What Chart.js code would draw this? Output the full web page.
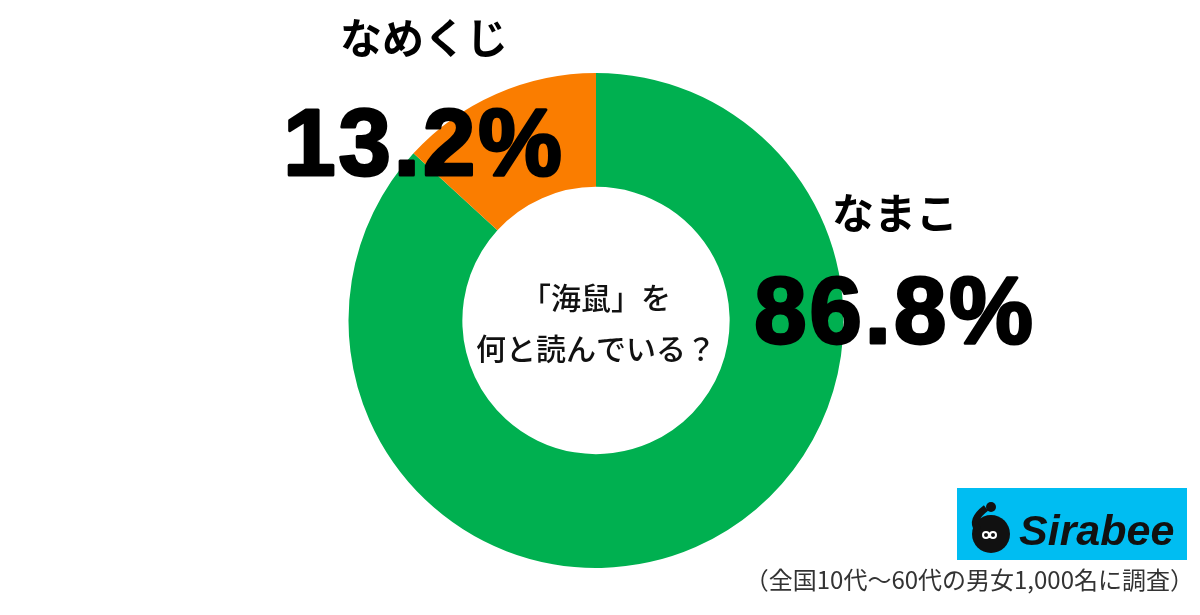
<!DOCTYPE html>
<html>
<head>
<meta charset="utf-8">
<script src="https://cdn.jsdelivr.net/npm/chart.js@4"></script>
<style>
  html, body { margin: 0; padding: 0; background: #fff; }
  #wrap { width: 1200px; height: 615px; position: relative; }
</style>
</head>
<body>
<div id="wrap"><canvas id="myChart" width="1200" height="615"></canvas></div>
<script>
var answers = ['なまこ', 'なめくじ'];
var shares = [86.8, 13.2];
var colors = ['#00B050', '#FA7D00'];
var question = ['「海鼠」を', '何と読んでいる？'];
var note = '（全国10代～60代の男女1,000名に調査）';

// where each answer's label goes (name line, then percentage line)
var labelPos = [
    { x: 895, nameY: 213, pctY: 343 },
    { x: 424, nameY: 38, pctY: 175 }
];

const textPlugin = {
    id: 'texts',
    afterDraw(chart) {
        const ctx = chart.ctx;
        const arc = chart.getDatasetMeta(0).data[0];
        ctx.save();
        ctx.fillStyle = '#000';
        ctx.strokeStyle = '#000';
        ctx.textAlign = 'center';

        // labels + percentages
        answers.forEach(function (name, i) {
            const p = labelPos[i];
            ctx.font = 'bold 42px "Noto Sans CJK JP"';
            ctx.textBaseline = 'middle';
            ctx.fillText(name, p.x, p.nameY);
            ctx.font = 'bold 94px "Liberation Sans"';
            ctx.textBaseline = 'alphabetic';
            ctx.letterSpacing = '3px';
            ctx.lineWidth = 3;
            ctx.lineJoin = 'round';
            ctx.fillText(shares[i].toFixed(1) + '%', p.x, p.pctY);
            ctx.strokeText(shares[i].toFixed(1) + '%', p.x, p.pctY);
            ctx.letterSpacing = '0px';
        });

        // question in the hole
        ctx.font = '500 30px "Noto Sans CJK JP"';
        ctx.textBaseline = 'middle';
        ctx.fillStyle = '#111';
        ctx.fillText(question[0], arc.x, arc.y - 23);
        ctx.fillText(question[1], arc.x, arc.y + 28);

        // footnote
        ctx.font = '24px "Noto Sans CJK JP"';
        ctx.fillStyle = '#333';
        ctx.textAlign = 'right';
        ctx.fillText(note, 1194, 580);

        // Sirabee logo
        ctx.fillStyle = '#00BDF2';
        ctx.fillRect(957, 488, 230, 72);
        ctx.fillStyle = '#111';
        ctx.beginPath();
        ctx.arc(991, 534, 19, 0, Math.PI * 2);
        ctx.fill();
        ctx.lineWidth = 7;
        ctx.strokeStyle = '#111';
        ctx.beginPath();
        ctx.arc(991, 507, 5, 0, Math.PI * 2);
        ctx.fill();
        ctx.beginPath();
        ctx.moveTo(986, 508);
        ctx.quadraticCurveTo(970, 520, 978, 530);
        ctx.stroke();
        ctx.strokeStyle = '#fff';
        ctx.lineWidth = 2;
        ctx.beginPath();
        ctx.arc(986, 535, 3, 0, Math.PI * 2);
        ctx.arc(993, 535, 3, Math.PI, Math.PI * 3);
        ctx.stroke();
        ctx.fillStyle = '#111';
        ctx.textAlign = 'left';
        ctx.textBaseline = 'alphabetic';
        ctx.font = 'italic bold 43px "Liberation Sans"';
        ctx.fillText('Sirabee', 1019, 545);
        ctx.restore();
    }
};

const data = {
    labels: answers,
    datasets: [{
        data: shares,
        backgroundColor: colors,
        borderWidth: 0
    }]
};

const config = {
    type: 'doughnut',
    data: data,
    options: {
        responsive: false,
        animation: false,
        cutout: '54%',
        layout: { padding: { top: 73, bottom: 47, left: 348, right: 356 } },
        plugins: {
            legend: { display: false },
            tooltip: { enabled: false }
        }
    },
    plugins: [textPlugin]
};

const myChart = new Chart(document.getElementById('myChart'), config);
</script>
</body>
</html>
